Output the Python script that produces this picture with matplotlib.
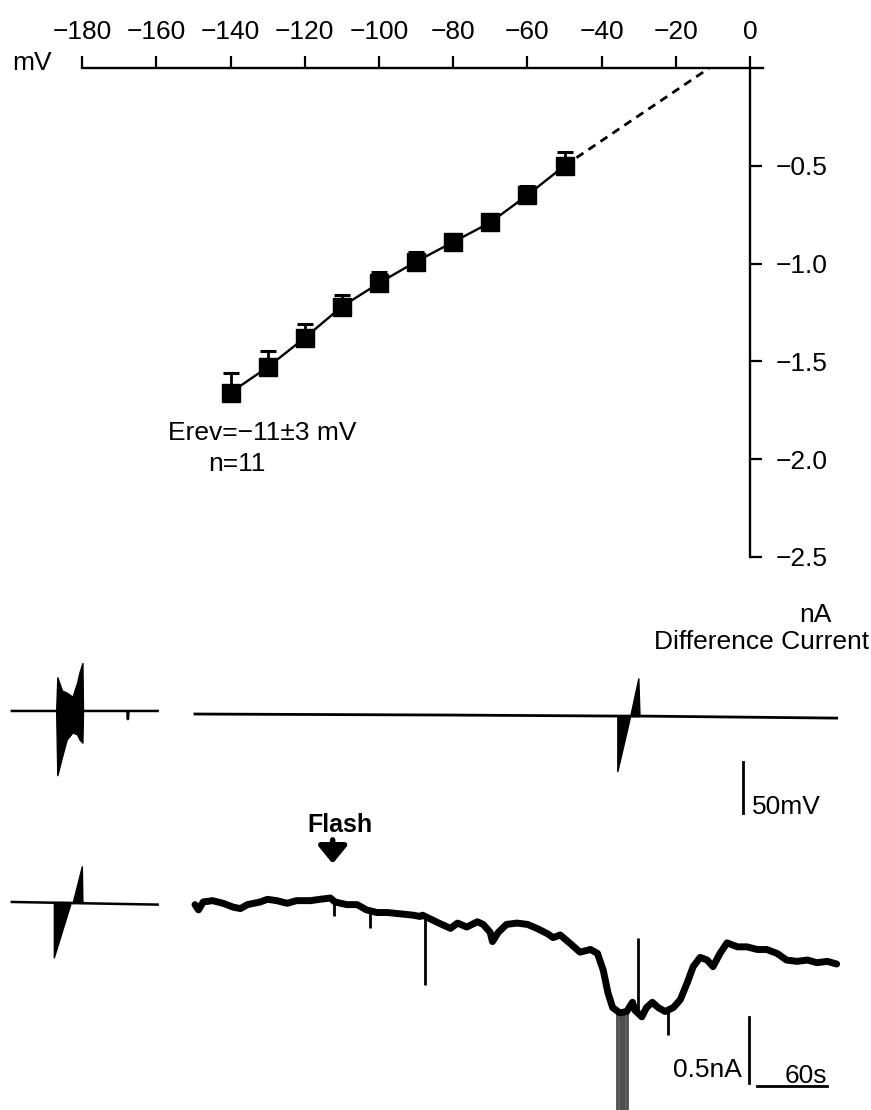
import matplotlib
matplotlib.use('Agg')
import matplotlib.pyplot as plt

plt.rcParams['font.family'] = ['Liberation Sans', 'DejaVu Sans']
plt.rcParams['font.size'] = 19

# ---- I-V relation of the difference current ----
iv_mv = [-140, -130, -120, -110, -100, -90, -80, -70, -60, -50]
iv_na = [-1.66, -1.53, -1.38, -1.22, -1.10, -0.99, -0.89, -0.79, -0.65, -0.50]
iv_sem = [0.10, 0.08, 0.07, 0.06, 0.055, 0.05, 0.03, 0.03, 0.045, 0.07]
erev = -11
x_ticks = list(range(-180, 1, 20))
y_ticks = [-2.5, -2.0, -1.5, -1.0, -0.5]

# ---- voltage record (mV relative to rest, time in s) ----
v_pre_t = [-157, -58, -57.5, -57, -32]
v_pre_mv = [0, 0, -8, 0, 0]
burst_t = [-119, -118, -114, -110, -105, -101, -99, -96.5, -96]
burst_hi = [0, 33, 20, 18, 14, 28, 38, 47, 0]
burst_lo = [0, -63, -45, -28, -21, -23, -28, -31, 0]
v_t = [0, 219, 362, 381, 550]
v_mv = [-3, -4, -5, -5, -7]
vspike_dn_t = [362, 373]
vspike_dn = [-59, -5]
vspike_up_t = [373, 380, 381]
vspike_up = [-5, 32, -5]

# ---- current record (nA) ----
i_pre_t = [-157, -32]
i_pre_na = [0, -0.02]
ispike_dn_t = [-121, -107]
ispike_dn = [-0.42, -0.02]
ispike_up_t = [-105, -97, -96.5]
ispike_up = [-0.01, 0.27, -0.01]
i_t = [0, 3, 7, 15, 24, 33, 39, 45, 56, 62,
       70, 79, 87, 99, 107, 116, 120, 130, 139, 147,
       156, 165, 176, 187, 193, 195, 209, 219, 225, 233,
       242, 247, 253, 255, 260, 267, 276, 285, 293, 302,
       307, 313, 321, 330, 339, 345, 350, 354, 358, 364,
       370, 375, 377, 383, 387, 392, 397, 403, 410, 416,
       422, 427, 433, 439, 444, 450, 456, 465, 473, 482,
       490, 499, 507, 516, 525, 533, 542, 550]
i_na = [-0.02, -0.06, 0.0, 0.01, -0.01, -0.04, -0.05, -0.02, 0.0, 0.02,
        0.01, -0.01, 0.01, 0.01, 0.02, 0.03, 0.0, -0.02, -0.02, -0.06,
        -0.08, -0.08, -0.09, -0.10, -0.11, -0.10, -0.16, -0.20, -0.16, -0.19,
        -0.15, -0.17, -0.23, -0.30, -0.23, -0.17, -0.16, -0.17, -0.20, -0.24,
        -0.27, -0.25, -0.31, -0.38, -0.36, -0.39, -0.52, -0.69, -0.80, -0.84,
        -0.83, -0.76, -0.82, -0.87, -0.80, -0.76, -0.80, -0.83, -0.80, -0.74,
        -0.61, -0.49, -0.42, -0.44, -0.49, -0.39, -0.31, -0.34, -0.34, -0.36,
        -0.36, -0.39, -0.44, -0.45, -0.44, -0.46, -0.45, -0.47]
# brief transients on the current record: time, start level, tip
ispk_t = [119, 150, 197, 380, 405]
ispk_from = [0.02, -0.06, -0.10, -0.82, -0.83]
ispk_tip = [-0.11, -0.20, -0.63, -0.27, -1.01]
# cluster of large inward transients near the peak of the response
big_t = [362, 364, 366, 368, 370]
big_tip = [-1.70, -1.70, -1.70, -1.70, -1.70]
big_from = -0.84
flash_t = 118

W, H = 871, 1110
fig = plt.figure(figsize=(W / 100, H / 100), dpi=100)


def px_box(x0, y0, x1, y1):
    return [x0 / W, 1 - y1 / H, (x1 - x0) / W, (y1 - y0) / H]


# top panel: axes crossing at the origin
ax = fig.add_axes(px_box(74.8, 38.7, 768.6, 576.3))
ax.set_xlim(-182, 5)
ax.set_ylim(-2.6, 0.15)
ax.patch.set_alpha(0)
ax.spines['left'].set_visible(False)
ax.spines['bottom'].set_visible(False)
ax.spines['top'].set_position(('data', 0))
ax.spines['top'].set_bounds(-180, 3.5)
ax.spines['right'].set_position(('data', 0))
ax.spines['right'].set_bounds(-2.5, 0)
for s in ['top', 'right']:
    ax.spines[s].set_linewidth(1.7)
ax.xaxis.set_ticks_position('top')
ax.yaxis.set_ticks_position('right')
ax.set_xticks(x_ticks)
ax.set_yticks(y_ticks)
ax.tick_params(axis='x', direction='out', length=8.6, width=1.6, pad=9)
ax.tick_params(axis='y', direction='out', length=8.6, width=1.6, pad=10)

ax.errorbar(iv_mv, iv_na, yerr=[[0] * len(iv_sem), iv_sem], fmt='s-', color='k',
            ms=13, lw=1.7, elinewidth=2, capsize=6, capthick=2.2)
ax.plot([iv_mv[-1], erev], [iv_na[-1], 0], color='k', lw=2, ls=(0, (3, 2.2)))
ax.text(-157, -1.867, 'Erev=\u221211\u00b13 mV', ha='left', va='center')
ax.text(-146, -2.026, 'n=11', ha='left', va='center')

fig.text(32 / W, 1 - 63 / H, 'mV', ha='center', va='center')
fig.text(815 / W, 1 - 615 / H, 'nA', ha='center', va='center')
fig.text(869 / W, 1 - 642 / H, 'Difference Current', ha='right', va='center')

# bottom panels: raw records
t_lim = ((0 - 195) * 60 / 70, (871 - 195) * 60 / 70)

axv = fig.add_axes(px_box(0, 590, 871, 830))
axv.set_xlim(*t_lim)
axv.set_ylim(-116.7, 118.6)
axv.axis('off')
axv.plot(v_pre_t, v_pre_mv, color='k', lw=1.8)
axv.fill_between(burst_t, burst_lo, burst_hi, color='k', lw=1)
axv.plot(v_t, v_mv, color='k', lw=2)
axv.fill_between(vspike_dn_t, vspike_dn, v_mv[2], color='k', lw=1)
axv.fill_between(vspike_up_t, v_mv[2], vspike_up, color='k', lw=1)
axv.plot([470, 470], [-50, -100], color='k', lw=2)
axv.text(477, -94, '50mV', ha='left', va='center')

axi = fig.add_axes(px_box(0, 780, 871, 1110))
axi.set_xlim(*t_lim)
axi.set_ylim(-1.576, 0.924)
axi.axis('off')
axi.plot(i_pre_t, i_pre_na, color='k', lw=1.8)
axi.fill_between(ispike_dn_t, ispike_dn, i_pre_na[0], color='k', lw=1)
axi.fill_between(ispike_up_t, i_pre_na[0], ispike_up, color='k', lw=1)
axi.vlines(big_t, big_from, big_tip, color='0.3', lw=2)
axi.plot(i_t, i_na, color='k', lw=5, solid_joinstyle='round', solid_capstyle='round')
axi.vlines(ispk_t, ispk_from, ispk_tip, color='k', lw=2)
axi.plot([475, 475], [-0.87, -1.37], color='k', lw=2)
axi.text(469, -1.27, '0.5nA', ha='right', va='center')
axi.plot([482, 542], [-1.394, -1.394], color='k', lw=2)
axi.text(524, -1.371, '60s', ha='center', va='baseline')

axi.text(flash_t + 6, 0.58, 'Flash', ha='center', va='center', fontweight='bold', fontsize=18)
axi.annotate('', xy=(flash_t, 0.29), xytext=(flash_t, 0.47),
             arrowprops=dict(arrowstyle='-|>,head_width=0.45,head_length=0.55',
                             lw=4, color='k', shrinkA=0, shrinkB=0))

fig.savefig('out.png', dpi=100)
